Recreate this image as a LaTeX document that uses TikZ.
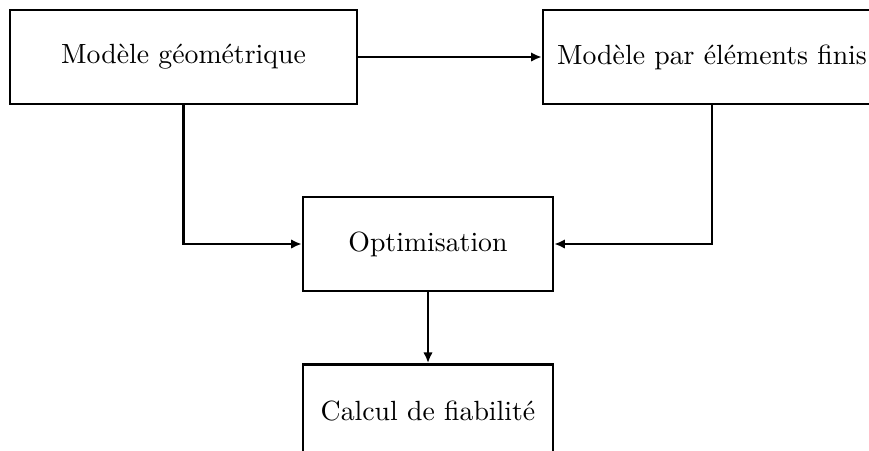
\documentclass[tikz,border=0pt]{standalone}
\usepackage{tikz}
\usetikzlibrary{
  arrows.meta,
  positioning
}
\tikzset{
  bloc/.style={draw, line width=0.9pt, fill=white,
    minimum height=33.8pt, inner sep=0pt,
    align=center, font=\normalsize},
  fleche/.style={-{Latex[length=3.8pt, width=3.4pt]}, line width=0.9pt},
}

\begin{document}
\begin{tikzpicture}[x=0.36pt, y=0.36pt]
  \useasboundingbox (0,0) rectangle (869,450);

  % Modeles
  \node[bloc, minimum width=124.9pt] (geom) at (183.5,393) {Modèle géométrique};
  \node[bloc, minimum width=121.7pt] (ef) at (712,393) {Modèle par éléments finis};
  % Optimisation
  \node[bloc, minimum width=90pt] (optim) at (428,206) {Optimisation};
  % Fiabilite
  \node[bloc, minimum width=90pt, below=25.5pt of optim] (fiab) {Calcul de fiabilité};

  % Fleches
  \draw[fleche] (geom.east) -- (ef.west);
  \draw[fleche] (geom.south) |- (optim.west);
  \draw[fleche] (ef.south) |- (optim.east);
  \draw[fleche] (optim.south) -- (fiab.north);
\end{tikzpicture}
\end{document}
